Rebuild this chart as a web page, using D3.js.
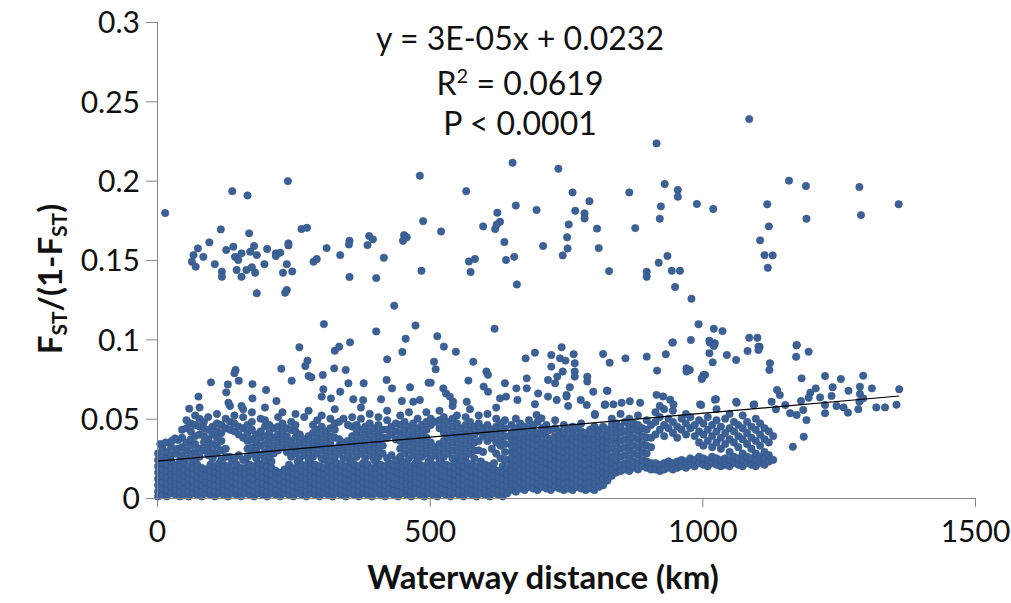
<!DOCTYPE html>
<html>
<head>
<meta charset="utf-8">
<script src="https://cdn.jsdelivr.net/npm/d3@7"></script>
<style>
  body { margin: 0; background: #fff; }
  text { font-family: Lato, "Open Sans", sans-serif; fill: #111; }
</style>
</head>
<body>
<div id="chart"></div>
<script>
// axis ticks
const xTicks = [0, 500, 1000, 1500];
const yTicks = [0, 0.05, 0.1, 0.15, 0.2, 0.25, 0.3];

// trend line from the label
const trendSlope = 3.02e-5;
const trendIntercept = 0.0232;
const trendEnd = 1361;

// solid lower band, read as columns: [distance km, [FST/(1-FST) values]]
const lowCols = [
  [2, [.001,.004,.008,.012,.016,.020,.024,.028]],
  [10, [.002,.006,.010,.014,.018,.022,.026,.031]],
  [18, [.001,.005,.009,.013,.017,.021,.025,.029]],
  [26, [.003,.007,.011,.015,.019,.023,.027,.032]],
  [34, [.002,.005,.009,.013,.017,.021,.028]],
  [42, [.001,.004,.008,.012,.016,.020,.024]],
  [50, [.002,.006,.010,.014,.018,.022]],
  [58, [.001,.004,.008,.012,.016,.020]],
  [66, [.003,.007,.011,.015,.019,.023]],
  [74, [.002,.005,.009,.013,.017,.021]],
  [82, [.001,.004,.008,.012,.016,.019]],
  [90, [.003,.006,.010,.014,.018]],
  [98, [.002,.005,.009,.013,.017,.021]],
  [106, [.001,.004,.008,.012,.016,.020]],
  [114, [.003,.007,.011,.015,.019,.022]],
  [122, [.002,.005,.009,.013,.017,.021]],
  [130, [.001,.004,.008,.012,.016,.020]],
  [138, [.003,.006,.010,.014,.018,.023]],
  [146, [.002,.005,.009,.013,.017,.021]],
  [154, [.001,.004,.008,.012,.016,.019]],
  [162, [.003,.007,.011,.015,.019,.024]],
  [170, [.002,.005,.009,.013,.017,.021]],
  [178, [.001,.004,.008,.012,.016,.020]],
  [186, [.003,.006,.010,.014,.018,.022]],
  [194, [.002,.005,.009,.013,.017,.021]],
  [202, [.001,.004,.008,.012,.016,.020]],
  [210, [.003,.007,.011,.015,.019,.023]],
  [218, [.002,.005,.009,.013,.017]],
  [226, [.001,.004,.008,.012,.016]],
  [234, [.003,.006,.010,.014,.018]],
  [242, [.002,.005,.009,.013,.017,.021]],
  [250, [.001,.004,.008,.012,.016,.019]],
  [258, [.003,.007,.011,.015,.019,.023]],
  [266, [.002,.005,.009,.013,.017,.021]],
  [274, [.001,.004,.008,.012,.016,.020]],
  [282, [.003,.006,.010,.014,.018,.022]],
  [290, [.002,.005,.009,.013,.017,.021]],
  [298, [.001,.004,.008,.012,.016,.020]],
  [306, [.003,.007,.011,.015,.019,.024]],
  [314, [.002,.005,.009,.013,.017,.021]],
  [322, [.001,.004,.008,.012,.016,.020]],
  [330, [.003,.006,.010,.014,.018,.022]],
  [338, [.002,.005,.009,.013,.017,.021]],
  [346, [.001,.004,.008,.012,.016,.020]],
  [354, [.003,.007,.011,.015,.019,.023]],
  [362, [.002,.005,.009,.013,.017,.021]],
  [370, [.001,.004,.008,.012,.016,.020]],
  [378, [.003,.006,.010,.014,.018,.022]],
  [386, [.002,.005,.009,.013,.017,.021]],
  [394, [.001,.004,.008,.012,.016,.019]],
  [402, [.003,.007,.011,.015,.019,.023]],
  [410, [.002,.005,.009,.013,.017,.021]],
  [418, [.001,.004,.008,.012,.016,.020]],
  [426, [.003,.006,.010,.014,.018,.022]],
  [434, [.002,.005,.009,.013,.017,.021]],
  [442, [.001,.004,.008,.012,.016,.020]],
  [450, [.003,.007,.011,.015,.019,.023]],
  [458, [.002,.005,.009,.013,.017,.021]],
  [466, [.001,.004,.008,.012,.016,.020]],
  [474, [.003,.006,.010,.014,.018,.022]],
  [482, [.002,.005,.009,.013,.017,.021]],
  [490, [.001,.004,.008,.012,.016,.020]],
  [498, [.003,.007,.011,.015,.019,.023]],
  [506, [.002,.005,.009,.013,.017,.021]],
  [514, [.001,.004,.008,.012,.016,.020]],
  [522, [.003,.006,.010,.014,.018,.022]],
  [530, [.002,.005,.009,.013,.017,.021]],
  [538, [.001,.004,.008,.012,.016,.020]],
  [546, [.003,.007,.011,.015,.019,.023]],
  [554, [.002,.005,.009,.013,.017,.021]],
  [562, [.001,.004,.008,.012,.016,.020]],
  [570, [.003,.006,.010,.014,.018,.022]],
  [578, [.002,.005,.009,.013,.017,.021]],
  [586, [.001,.004,.008,.012,.016,.020]],
  [594, [.003,.007,.011,.015,.019,.023]],
  [602, [.002,.005,.009,.013,.017,.021]],
  [610, [.001,.004,.008,.012,.016,.020]],
  [618, [.003,.006,.010,.014,.018,.022]],
  [626, [.002,.005,.009,.013,.017]],
  [634, [.001,.004,.008,.012,.016,.020]],
  [642, [.003,.007,.011,.015,.019,.024]],
  [650, [.005,.009,.013,.017,.021,.025,.029,.033,.037,.041,.046]],
  [658, [.004,.008,.012,.016,.020,.024,.028,.032,.036,.040,.044,.050]],
  [666, [.006,.010,.014,.018,.022,.026,.030,.034,.038,.043,.047]],
  [674, [.005,.009,.013,.017,.021,.025,.029,.033,.037,.041,.045]],
  [682, [.007,.011,.015,.019,.023,.027,.031,.035,.039,.044,.049]],
  [690, [.006,.010,.014,.018,.022,.026,.030,.034,.038,.042,.046]],
  [698, [.005,.009,.013,.017,.021,.025,.029,.033,.037,.041,.048]],
  [706, [.007,.011,.015,.019,.023,.027,.031,.035,.040,.044]],
  [714, [.006,.010,.014,.018,.022,.026,.030,.034,.038,.042,.046]],
  [722, [.005,.009,.013,.017,.021,.025,.029,.033,.037,.043]],
  [730, [.007,.011,.015,.019,.023,.027,.031,.035,.039,.044,.049]],
  [738, [.006,.010,.014,.018,.022,.026,.030,.034,.038,.042]],
  [746, [.005,.009,.013,.017,.021,.025,.029,.033,.037,.041,.046]],
  [754, [.006,.010,.014,.018,.022,.026,.030,.034,.038,.043]],
  [762, [.005,.009,.013,.017,.021,.025,.029,.033,.037,.041,.045]],
  [770, [.007,.011,.015,.019,.023,.027,.031,.035,.039,.044]],
  [778, [.006,.010,.014,.018,.022,.026,.030,.034,.038,.042,.047]],
  [786, [.005,.009,.013,.017,.021,.025,.029,.033,.037,.041]],
  [794, [.006,.010,.014,.018,.022,.026,.030,.034,.038,.043]],
  [802, [.005,.009,.013,.017,.021,.025,.029,.033,.037,.041,.045]],
  [810, [.007,.011,.015,.019,.023,.027,.031,.035,.039,.043]],
  [818, [.008,.012,.016,.020,.024,.028,.032,.036,.040,.045]],
  [826, [.011,.015,.019,.023,.027,.031,.035,.039,.043]],
  [834, [.014,.018,.022,.026,.031,.036,.041,.046,.050]],
  [842, [.016,.020,.024,.029,.034,.038,.043,.047]],
  [850, [.017,.021,.026,.031,.036,.041,.045,.053]],
  [858, [.018,.022,.027,.032,.037,.042,.048]],
  [866, [.017,.021,.025,.030,.035,.040,.045,.050]],
  [874, [.019,.023,.028,.033,.038,.043,.047]],
  [882, [.018,.022,.027,.032,.037,.042,.046,.052]],
  [890, [.020,.024,.029,.034,.039,.044]],
  [898, [.019,.023,.028,.033,.038,.043,.049]],
  [906, [.018,.022,.032,.038,.046]],
  [914, [.018,.022,.040,.048,.054]],
  [922, [.017,.021,.043,.051]],
  [930, [.018,.022,.039,.046,.056]],
  [938, [.019,.023,.044,.050]],
  [946, [.018,.022,.041,.048,.055]],
  [954, [.019,.023,.038,.045]],
  [962, [.020,.024,.043,.050]],
  [970, [.019,.023,.040,.047,.053]],
  [978, [.021,.025,.044,.051]],
  [986, [.020,.024,.039,.046]],
  [994, [.022,.026,.035,.042,.049]],
  [1002, [.021,.025,.033,.040,.047]],
  [1010, [.020,.024,.036,.043,.051]],
  [1018, [.022,.026,.032,.039,.046]],
  [1026, [.021,.025,.035,.042,.049,.056]],
  [1034, [.020,.024,.031,.038,.045]],
  [1042, [.021,.025,.034,.041,.050]],
  [1050, [.020,.024,.029,.037,.044,.053]],
  [1058, [.022,.026,.035,.042,.048]],
  [1066, [.021,.025,.032,.039,.046]],
  [1074, [.020,.024,.028,.037,.044,.052]],
  [1082, [.022,.026,.034,.041,.048]],
  [1090, [.021,.025,.031,.038,.045]],
  [1098, [.020,.024,.028,.036,.043,.050]],
  [1106, [.022,.026,.033,.040,.047]],
  [1114, [.021,.025,.029,.037,.044]],
  [1122, [.023,.027,.035,.042]],
  [1130, [.024,.039]]
];

// looser middle band above the solid one: [distance km, [values]]
const midCols = [
  [6, [.034]], [16, [.035]], [27, [.036]], [38, [.031]],
  [46, [.027,.032,.038,.043]],
  [54, [.025,.030,.035,.044,.049]],
  [62, [.028,.033,.037,.042,.047]],
  [70, [.024,.029,.034,.039,.046,.052]],
  [78, [.026,.031,.040,.045,.050,.057]],
  [86, [.030,.035,.039,.044,.048]],
  [94, [.027,.032,.037,.043,.051]],
  [102, [.025,.029,.034,.040,.045]],
  [110, [.028,.033,.038,.042,.047,.053]],
  [118, [.024,.030,.036,.041,.046]],
  [126, [.026,.031,.044,.050]],
  [134, [.026,.043,.048,.058]],
  [142, [.025,.042,.047,.052]],
  [150, [.027,.040,.045]],
  [158, [.024,.038,.044,.051,.056]],
  [166, [.026,.031,.036,.041,.046]],
  [174, [.028,.032,.037,.043,.048,.054]],
  [182, [.025,.030,.035,.040]],
  [190, [.027,.033,.038,.042,.050]],
  [198, [.024,.029,.034,.039,.045,.049,.057]],
  [206, [.026,.031,.036,.041,.046]],
  [214, [.028,.033,.038,.044]],
  [222, [.030,.035,.040,.045,.051]],
  [230, [.032,.037,.042,.047,.054]],
  [238, [.029,.034,.039,.044]],
  [246, [.026,.031,.036,.043,.048]],
  [254, [.028,.033,.038,.042,.046,.053]],
  [262, [.025,.030,.035,.040]],
  [270, [.027,.032,.037,.051]],
  [278, [.024,.029,.034,.039,.055]],
  [286, [.026,.031,.036,.041,.046]],
  [294, [.028,.033,.038,.043,.049]],
  [302, [.025,.030,.035,.040,.045,.052]],
  [310, [.027,.032,.037,.042]],
  [318, [.024,.029,.034,.039,.044,.050]],
  [326, [.026,.031,.038,.043,.047,.056]],
  [334, [.028,.033,.037,.048]],
  [342, [.025,.030,.035,.050]],
  [350, [.027,.032,.036,.046]],
  [358, [.024,.029,.034,.039,.045,.051]],
  [366, [.026,.031,.036,.041,.046]],
  [374, [.028,.033,.038,.043,.050,.057]],
  [382, [.025,.030,.035,.040,.045]],
  [390, [.027,.032,.037,.042,.047,.053]],
  [398, [.024,.029,.034,.039,.044]],
  [406, [.026,.031,.036,.041,.046,.051]],
  [414, [.028,.033,.038,.043]],
  [422, [.025,.038,.043,.049,.055]],
  [430, [.027,.040,.045]],
  [438, [.024,.037,.042,.047]],
  [446, [.026,.031,.036,.041,.046,.052]],
  [454, [.028,.033,.038,.043,.048]],
  [462, [.025,.030,.035,.040,.045,.054]],
  [470, [.027,.032,.037,.042,.047]],
  [478, [.024,.029,.034,.039,.044,.050]],
  [486, [.026,.031,.036,.041,.046]],
  [494, [.028,.033,.038,.043,.048,.054]],
  [502, [.025,.030,.035,.046,.050]],
  [510, [.027,.032,.048]],
  [518, [.024,.029,.034,.044,.049,.055]],
  [526, [.026,.031,.036,.041,.046,.051]],
  [534, [.028,.033,.038,.043,.048]],
  [542, [.025,.030,.035,.040,.045,.050,.058]],
  [550, [.027,.032,.037,.042,.047,.052]],
  [558, [.024,.029,.034,.039,.044]],
  [566, [.026,.031,.036,.041,.046,.051]],
  [574, [.028,.033,.038,.043,.048,.056]],
  [582, [.025,.030,.035,.040,.045]],
  [590, [.030,.036,.042,.047,.052]],
  [598, [.029,.039,.044]],
  [606, [.036,.041,.046,.053]],
  [614, [.031,.038,.043]],
  [622, [.028,.035,.040,.045,.050,.057]],
  [630, [.025,.033,.037,.042,.047]],
  [638, [.024,.029,.034,.039,.044,.049]]
];

// upper group around 0.13-0.24 [km, value]
const upperPts = [
  [15,.1796],[138,.1934],[166,.1907],[240,.1997],[482,.2031],[488,.1745],[521,.168],[485,.1432],
  [117,.1693],[169,.1668],[96,.1611],[75,.1573],[67,.1531],[64,.1489],[71,.1458],[85,.152],
  [106,.1474],[119,.1426],[119,.1394],[127,.1563],[140,.1584],[143,.152],[149,.15],[155,.1542],
  [146,.1437],[155,.1394],[164,.1437],[174,.1454],[180,.142],[171,.1552],[178,.1588],[183,.1531],
  [197,.1474],[202,.1569],[183,.129],[218,.1542],[226,.1546],[218,.1525],[241,.1605],[241,.1592],
  [238,.1474],[248,.1428],[231,.142],[238,.1311],[235,.1294],[265,.1695],[275,.1703],[287,.1489],
  [293,.1506],[311,.1575],[336,.1531],[353,.1621],[352,.1598],[353,.1393],[389,.1651],[396,.163],
  [386,.1594],[402,.1386],[416,.1514],[453,.1657],[458,.1643],[451,.1621],[435,.1212],
  [916,.2235],[652,.2113],[736,.2075],[567,.1934],[762,.1926],[866,.1926],[931,.1979],[955,.1941],
  [955,.1899],[793,.1871],[658,.1843],[990,.1853],[1020,.1821],[924,.1838],[696,.1815],[767,.181],
  [784,.1794],[784,.1762],[624,.1798],[922,.176],[598,.1712],[620,.1695],[629,.1741],[623,.1724],
  [755,.1724],[807,.1698],[877,.1701],[752,.1643],[637,.1613],[708,.1588],[753,.1573],[810,.1575],
  [744,.1529],[572,.1491],[583,.1506],[575,.1424],[640,.15],[655,.152],[660,.1346],[829,.143],
  [898,.1426],[898,.1394],[920,.1483],[936,.1525],[944,.1432],[959,.1432],[950,.133],[980,.1256],
  [1086,.2388],[1159,.2],[1190,.1966],[1288,.196],[1119,.1851],[1360,.1851],[1191,.176],[1291,.1783],
  [1122,.1712],[1106,.1624],[1114,.1531],[1129,.1529],[1120,.1451]
];

// scattered points between the cloud and the upper group [km, value]
const midPts = [
  [306,.1096],[402,.105],[354,.0981],[474,.1087],[456,.1004],[514,.1019],[619,.1067],[993,.1095],
  [1021,.1067],[1037,.1052],[946,.0981],[979,.0996],[1013,.0991],[1023,.0975],[1086,.101],[1101,.101],
  [1173,.0962],[1105,.0953],[261,.095],[326,.0928],[334,.0954],[450,.092],[422,.0874],[276,.0865],
  [272,.0832],[228,.0815],[325,.0817],[346,.0807],[278,.0769],[283,.0761],[304,.0775],[144,.0807],
  [142,.0786],[99,.0729],[150,.0739],[130,.0716],[175,.0718],[247,.0739],[200,.0681],[127,.0666],
  [76,.0639],[351,.0723],[379,.0723],[421,.0744],[431,.0691],[464,.0698],[498,.0727],[305,.0685],
  [336,.067],[319,.0628],[302,.0639],[59,.0563],[39,.0365],[33,.0376],[219,.0611],[175,.0628],
  [155,.058],[131,.06],[411,.0622],[449,.0611],[470,.0607],[360,.0622],[378,.0617],
  [526,.0954],[548,.0922],[508,.0859],[511,.0811],[580,.0859],[604,.0797],[607,.0776],[571,.074],
  [502,.0727],[676,.088],[693,.0916],[723,.0901],[742,.095],[739,.088],[749,.0866],[764,.0906],
  [766,.0849],[723,.0828],[744,.0797],[766,.0797],[766,.0765],[789,.0765],[789,.0734],[818,.0908],
  [830,.0853],[859,.088],[898,.0891],[933,.0906],[945,.0979],[917,.0803],[971,.0817],[971,.0797],
  [999,.0755],[1005,.0776],[678,.0754],[638,.0723],[599,.0702],[607,.067],[659,.0691],[678,.0691],
  [699,.0659],[717,.0744],[730,.0723],[734,.0765],[757,.0698],[717,.0639],[733,.0618],[751,.0649],
  [777,.0618],[800,.067],[826,.0675],[788,.0586],[803,.0523],[821,.0586],[568,.0607],[543,.0607],
  [525,.0691],[530,.0659],[537,.0639],[629,.0628],[640,.0639],[661,.0618],[696,.0523],[705,.0502],
  [693,.0591],[482,.0618],[751,.064],[754,.058],[825,.0677],[803,.053],[822,.059],
  [837,.059],[852,.06],[867,.061],[886,.06],[916,.065],[928,.064],[941,.062],[947,.059],[922,.058],
  [996,.059],[1023,.062],[1063,.06],[1095,.059],
  [1361,.0685],[1356,.0588],[1335,.0571],[1319,.0571],[1311,.0691],[1295,.0771],[1289,.0701],
  [1289,.0655],[1288,.0607],[1286,.0559],[1295,.0628],[1268,.0676],[1267,.0538],[1254,.075],
  [1246,.058],[1259,.0571],[1239,.0698],[1237,.0643],[1225,.0769],[1225,.0534],[1225,.0586],
  [1208,.0691],[1216,.0634],[1198,.0664],[1195,.0632],[1182,.0754],[1181,.0611],[1185,.0555],
  [1191,.0491],[1186,.0386],[1166,.0323],[1173,.0964],[1172,.089],[1195,.0922],[1161,.0534],
  [1173,.0523],[1152,.0586],[1142,.0649],[1137,.0681],[1127,.0607],[1135,.0559],[1124,.0849],
  [1123,.0807],[1103,.0953],[1103,.0933],[1083,.0926],[1062,.087],[1045,.0901],[1014,.0979],
  [1021,.0958],[1013,.0912],[1019,.0855],[1002,.0775],[999,.075],[977,.0807],[998,.0586],
  [1025,.0622],[1062,.0607],[1094,.0586]
];

const width = 1011, height = 603;
const x = d3.scaleLinear().domain([0, 1500]).range([157, 975]);
const y = d3.scaleLinear().domain([0, 0.3]).range([498, 22]);

const svg = d3.select("#chart").append("svg")
  .attr("width", width)
  .attr("height", height);

const points = [];
lowCols.forEach(([km, vals]) => vals.forEach(v => points.push([km, v])));
midCols.forEach(([km, vals]) => vals.forEach(v => points.push([km, v])));
upperPts.forEach(p => points.push(p));
midPts.forEach(p => points.push(p));

svg.append("g")
  .selectAll("circle")
  .data(points)
  .enter().append("circle")
  .attr("cx", d => x(d[0]))
  .attr("cy", d => y(d[1]))
  .attr("r", 3.7)
  .attr("fill", "#3b6197")
  .attr("stroke", "#34568a")
  .attr("stroke-width", 0.6);

// trend line
svg.append("line")
  .attr("x1", x(0)).attr("y1", y(trendIntercept))
  .attr("x2", x(trendEnd)).attr("y2", y(trendIntercept + trendSlope * trendEnd))
  .attr("stroke", "#000")
  .attr("stroke-width", 1.2);

// axes
const axisColor = "#868686";
const yAxis = svg.append("g")
  .attr("transform", `translate(${x(0)},0)`)
  .call(d3.axisLeft(y).tickValues(yTicks).tickSize(11).tickPadding(6)
    .tickFormat(d => String(+d.toFixed(2))));
const xAxis = svg.append("g")
  .attr("transform", `translate(0,${y(0)})`)
  .call(d3.axisBottom(x).tickValues(xTicks).tickSize(9).tickPadding(12)
    .tickFormat(d3.format("d")));

[xAxis, yAxis].forEach(g => {
  g.select(".domain").attr("stroke", axisColor);
  g.selectAll(".tick line").attr("stroke", axisColor);
  g.selectAll(".tick text")
    .style("font-family", "Lato, sans-serif")
    .style("font-size", "30px")
    .attr("fill", "#111");
});
yAxis.selectAll(".tick text").attr("dy", "0.36em");
xAxis.selectAll(".tick text").attr("dy", "0.78em");

// axis titles
svg.append("text")
  .attr("x", 543).attr("y", 589)
  .attr("text-anchor", "middle")
  .style("font-size", "33px")
  .style("font-weight", "bold")
  .text("Waterway distance (km)");

const yTitle = svg.append("text")
  .attr("transform", "translate(62,279) rotate(-90)")
  .attr("text-anchor", "middle")
  .style("font-size", "33px")
  .style("font-weight", "bold");
yTitle.append("tspan").text("F");
yTitle.append("tspan").attr("baseline-shift", "-25%").style("font-size", "21px").text("ST");
yTitle.append("tspan").text("/(1-F");
yTitle.append("tspan").attr("baseline-shift", "-25%").style("font-size", "21px").text("ST");
yTitle.append("tspan").text(")");

// regression text
const eqX = 520;
svg.append("text").attr("x", eqX).attr("y", 50).attr("text-anchor", "middle")
  .style("font-size", "32px").text("y = 3E-05x + 0.0232");
const r2 = svg.append("text").attr("x", eqX).attr("y", 95).attr("text-anchor", "middle")
  .style("font-size", "32px");
r2.append("tspan").text("R");
r2.append("tspan").attr("baseline-shift", "super").style("font-size", "20px").text("2");
r2.append("tspan").text(" = 0.0619");
svg.append("text").attr("x", eqX).attr("y", 135).attr("text-anchor", "middle")
  .style("font-size", "32px").text("P < 0.0001");
</script>
</body>
</html>
